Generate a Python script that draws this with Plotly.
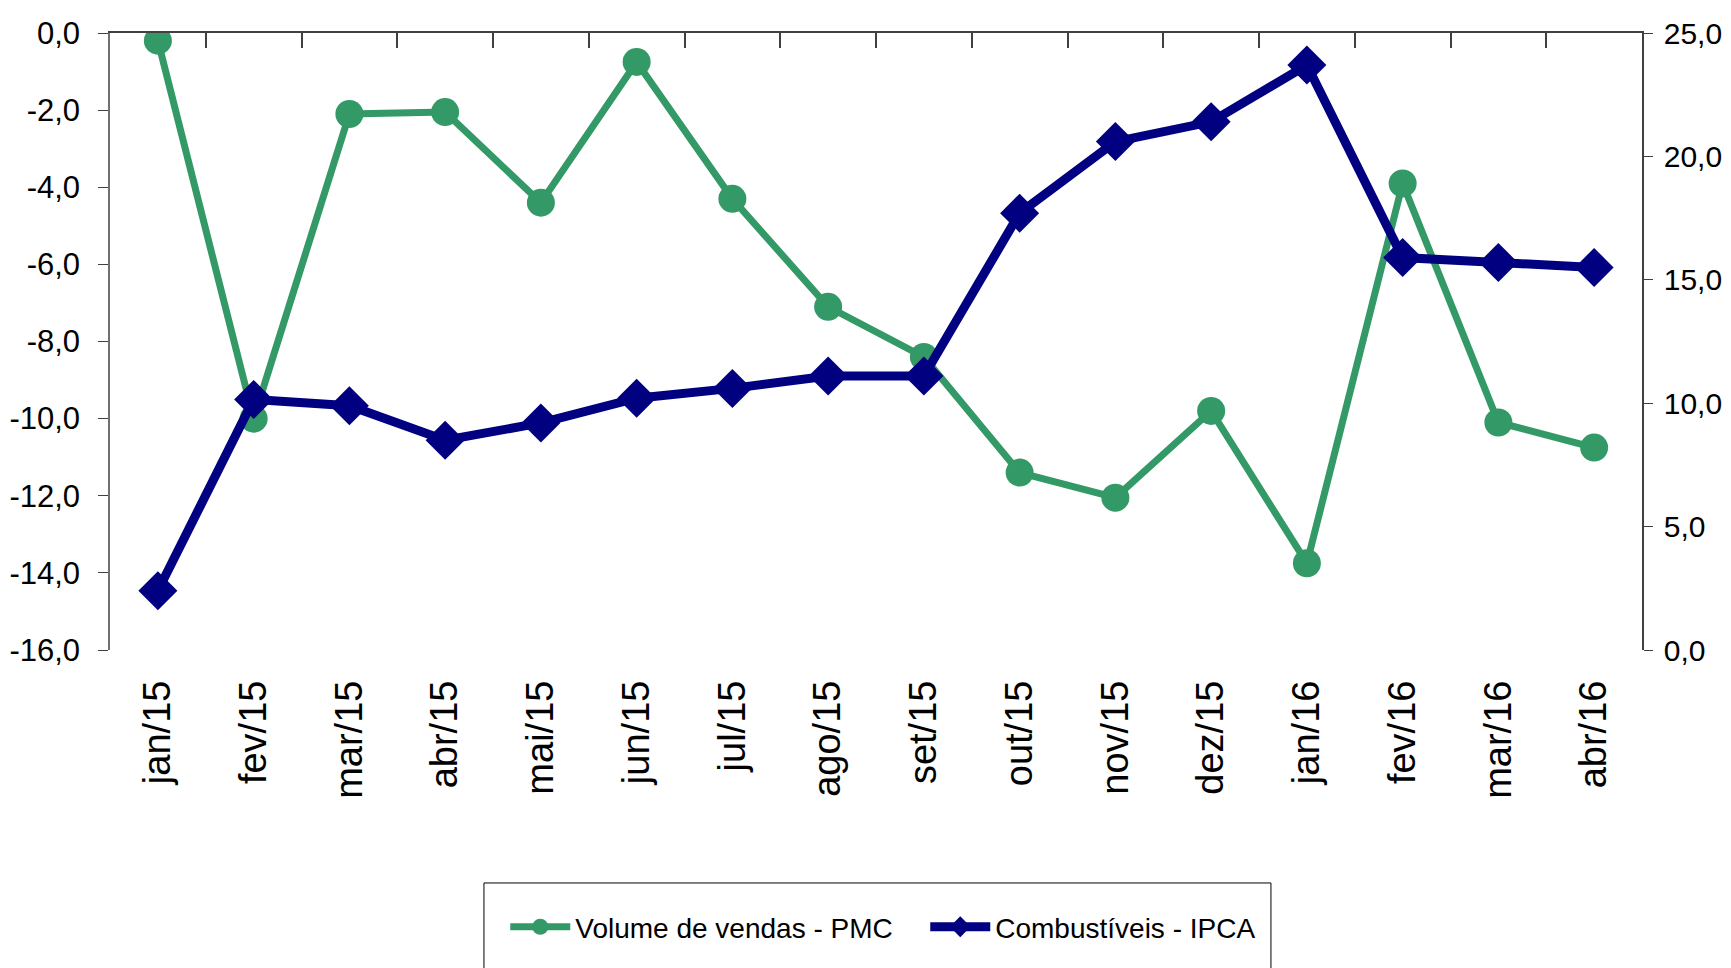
import plotly.graph_objects as go

categories = ["jan/15", "fev/15", "mar/15", "abr/15", "mai/15", "jun/15", "jul/15", "ago/15",
              "set/15", "out/15", "nov/15", "dez/15", "jan/16", "fev/16", "mar/16", "abr/16"]
volume_pmc = [-0.2, -10.0, -2.1, -2.05, -4.4, -0.75, -4.3, -7.1,
              -8.4, -11.4, -12.05, -9.8, -13.75, -3.9, -10.1, -10.75]
combustiveis_ipca = [2.4, 10.15, 9.9, 8.5, 9.2, 10.2, 10.6, 11.1,
                     11.1, 17.7, 20.6, 21.4, 23.7, 15.9, 15.7, 15.5]

left_ticks = [0, -2, -4, -6, -8, -10, -12, -14, -16]
left_tick_labels = ["0,0", "-2,0", "-4,0", "-6,0", "-8,0", "-10,0", "-12,0", "-14,0", "-16,0"]
right_ticks = [0, 5, 10, 15, 20, 25]
right_tick_labels = ["0,0", "5,0", "10,0", "15,0", "20,0", "25,0"]

GREEN = "#339966"
NAVY = "#000080"
AXIS = "#404040"
FONT = "Liberation Sans, Arial, sans-serif"

fig = go.Figure()

fig.add_trace(go.Scatter(
    x=categories, y=volume_pmc, name="Volume de vendas - PMC",
    mode="lines+markers", line=dict(color=GREEN, width=7),
    marker=dict(symbol="circle", size=28, color=GREEN),
    xaxis="x", yaxis="y"))

fig.add_trace(go.Scatter(
    x=categories, y=combustiveis_ipca, name="Combustíveis - IPCA",
    mode="lines+markers", line=dict(color=NAVY, width=9),
    marker=dict(symbol="diamond", size=30, color=NAVY),
    xaxis="x", yaxis="y2"))

# invisible trace to carry the top category axis
fig.add_trace(go.Scatter(
    x=categories, y=[None] * len(categories), showlegend=False,
    hoverinfo="skip", mode="lines", xaxis="x2", yaxis="y"))

# legend frame
fig.add_shape(type="rect", xref="paper", yref="paper",
              x0=0.2441, x1=0.7578, y0=-0.527, y1=-0.3776,
              line=dict(color="black", width=1), fillcolor="rgba(0,0,0,0)", layer="below")

fig.update_layout(
    width=1731, height=968,
    template="none",
    paper_bgcolor="white", plot_bgcolor="white",
    margin=dict(l=102, r=97, t=25, b=326),
    showlegend=True,
    xaxis=dict(
        type="category", categoryarray=categories, range=[-0.5, len(categories) - 0.5],
        side="bottom", anchor="y", showline=False, ticks="", showgrid=False,
        zeroline=False, tickangle=-90, ticklabelstandoff=22, automargin=False,
        tickfont=dict(family=FONT, size=38, color="black")),
    xaxis2=dict(
        type="category", categoryarray=categories, range=[-0.5, len(categories) - 0.5],
        overlaying="x", side="top", anchor="y", showline=True, linecolor=AXIS,
        linewidth=1.5, ticks="inside", ticklen=15, tickcolor=AXIS, tickwidth=1.5,
        tickson="boundaries", showticklabels=False, showgrid=False, zeroline=False,
        automargin=False),
    yaxis=dict(
        range=[-16, 0], tickvals=left_ticks, ticktext=left_tick_labels,
        showline=True, linecolor="#707070", linewidth=1.5, ticks="outside",
        ticklen=10, tickcolor=AXIS, showgrid=False, zeroline=False, automargin=False,
        ticklabelstandoff=12,
        tickfont=dict(family=FONT, size=31, color="black")),
    yaxis2=dict(
        range=[0, 25], tickvals=right_ticks, ticktext=right_tick_labels,
        overlaying="y", side="right", anchor="x", showline=True, linecolor=AXIS,
        linewidth=1.5, ticks="outside", ticklen=9, tickcolor=AXIS, showgrid=False,
        zeroline=False, automargin=False, ticklabelstandoff=5,
        tickfont=dict(family=FONT, size=30, color="black")),
    legend=dict(
        orientation="h", x=0.258, xanchor="left", y=-0.449, yanchor="middle",
        borderwidth=0, bgcolor="rgba(0,0,0,0)", itemwidth=60,
        entrywidth=345, entrywidthmode="pixels",
        font=dict(family=FONT, size=28, color="black")),
)

fig.write_html("out.html")
